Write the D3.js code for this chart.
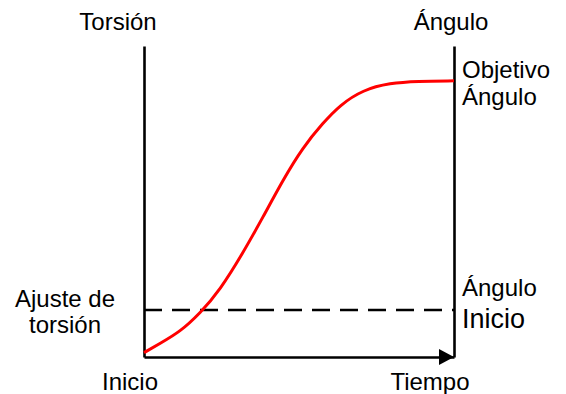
<!DOCTYPE html>
<html>
<head>
<meta charset="utf-8">
<script src="https://cdn.jsdelivr.net/npm/d3@7"></script>
<style>
html,body{margin:0;padding:0;background:#fff;}
svg{display:block;font-family:"Liberation Sans",Arial,sans-serif;}
</style>
</head>
<body>
<svg id="chart" width="566" height="394"></svg>
<script>
// Data (normalized time 0-100, value 0-100)
const curveTime  = [0, 5.2, 11.6, 18.1, 24.5, 31.9, 38.4, 44.8, 51.3, 57.7, 63.2, 70.6, 79.4, 88.1, 100];
const curveValue = [1.4, 4.4, 8.1, 14.1, 21.5, 33.4, 45.0, 56.9, 67.5, 75.2, 81.0, 85.9, 88.1, 88.7, 88.8];
const torqueSetting = [15.1];
const leftAxisTitle = ["Torsión"];
const rightAxisTitle = ["Ángulo"];
const xStartLabel = ["Inicio"];
const xEndLabel = ["Tiempo"];
const leftLabel = ["Ajuste de", "torsión"];
const rightTopLabel = ["Objetivo", "Ángulo"];
const rightBottomLabel = ["Ángulo", "Inicio"];

const svg = d3.select("#chart");
const x = d3.scaleLinear().domain([0, 100]).range([144, 454]);
const y = d3.scaleLinear().domain([0, 100]).range([357, 46]);

const pts = curveTime.map((t, i) => [t, curveValue[i]]);

// axes
svg.append("g").attr("transform", `translate(${x(0)},0)`)
  .call(d3.axisLeft(y).ticks(0).tickSize(0));
svg.append("g").attr("transform", `translate(${x(100)},0)`)
  .call(d3.axisRight(y).ticks(0).tickSize(0));
svg.append("g").attr("transform", `translate(0,${y(0)})`)
  .call(d3.axisBottom(x).ticks(0).tickSize(0));
svg.selectAll(".domain").attr("stroke", "#000").attr("stroke-width", 2.6);

// arrow head on time axis
svg.append("path")
  .attr("d", `M${x(100) - 15},${y(0) - 8} L${x(100)},${y(0)} L${x(100) - 15},${y(0) + 8} Z`)
  .attr("fill", "#000");

// dashed torque setting line
svg.selectAll(".dash").data(torqueSetting).enter().append("line")
  .attr("x1", x(0)).attr("x2", x(100))
  .attr("y1", d => y(d)).attr("y2", d => y(d))
  .attr("stroke", "#000").attr("stroke-width", 2.4)
  .attr("stroke-dasharray", "18,10");

// red curve
svg.append("path")
  .datum(pts)
  .attr("fill", "none")
  .attr("stroke", "#ff0000")
  .attr("stroke-width", 3)
  .attr("d", d3.line().x(d => x(d[0])).y(d => y(d[1])).curve(d3.curveBasis));

// texts
const fs = 24;
function txt(s, px, py, anchor, size) {
  svg.append("text").attr("x", px).attr("y", py)
    .attr("text-anchor", anchor).attr("font-size", size || fs)
    .attr("fill", "#000").text(s);
}
txt(leftAxisTitle[0], 118, 30, "middle");
txt(rightAxisTitle[0], 451, 30, "middle");
txt(xStartLabel[0], 130, 390, "middle");
txt(xEndLabel[0], 430, 390, "middle");
leftLabel.forEach((s, i) => txt(s, 65, 307 + i * 26, "middle"));
rightTopLabel.forEach((s, i) => txt(s, 462, 78 + i * 27, "start"));
txt(rightBottomLabel[0], 462, 296, "start");
txt(rightBottomLabel[1], 462, 328, "start", 27);
</script>
</body>
</html>
